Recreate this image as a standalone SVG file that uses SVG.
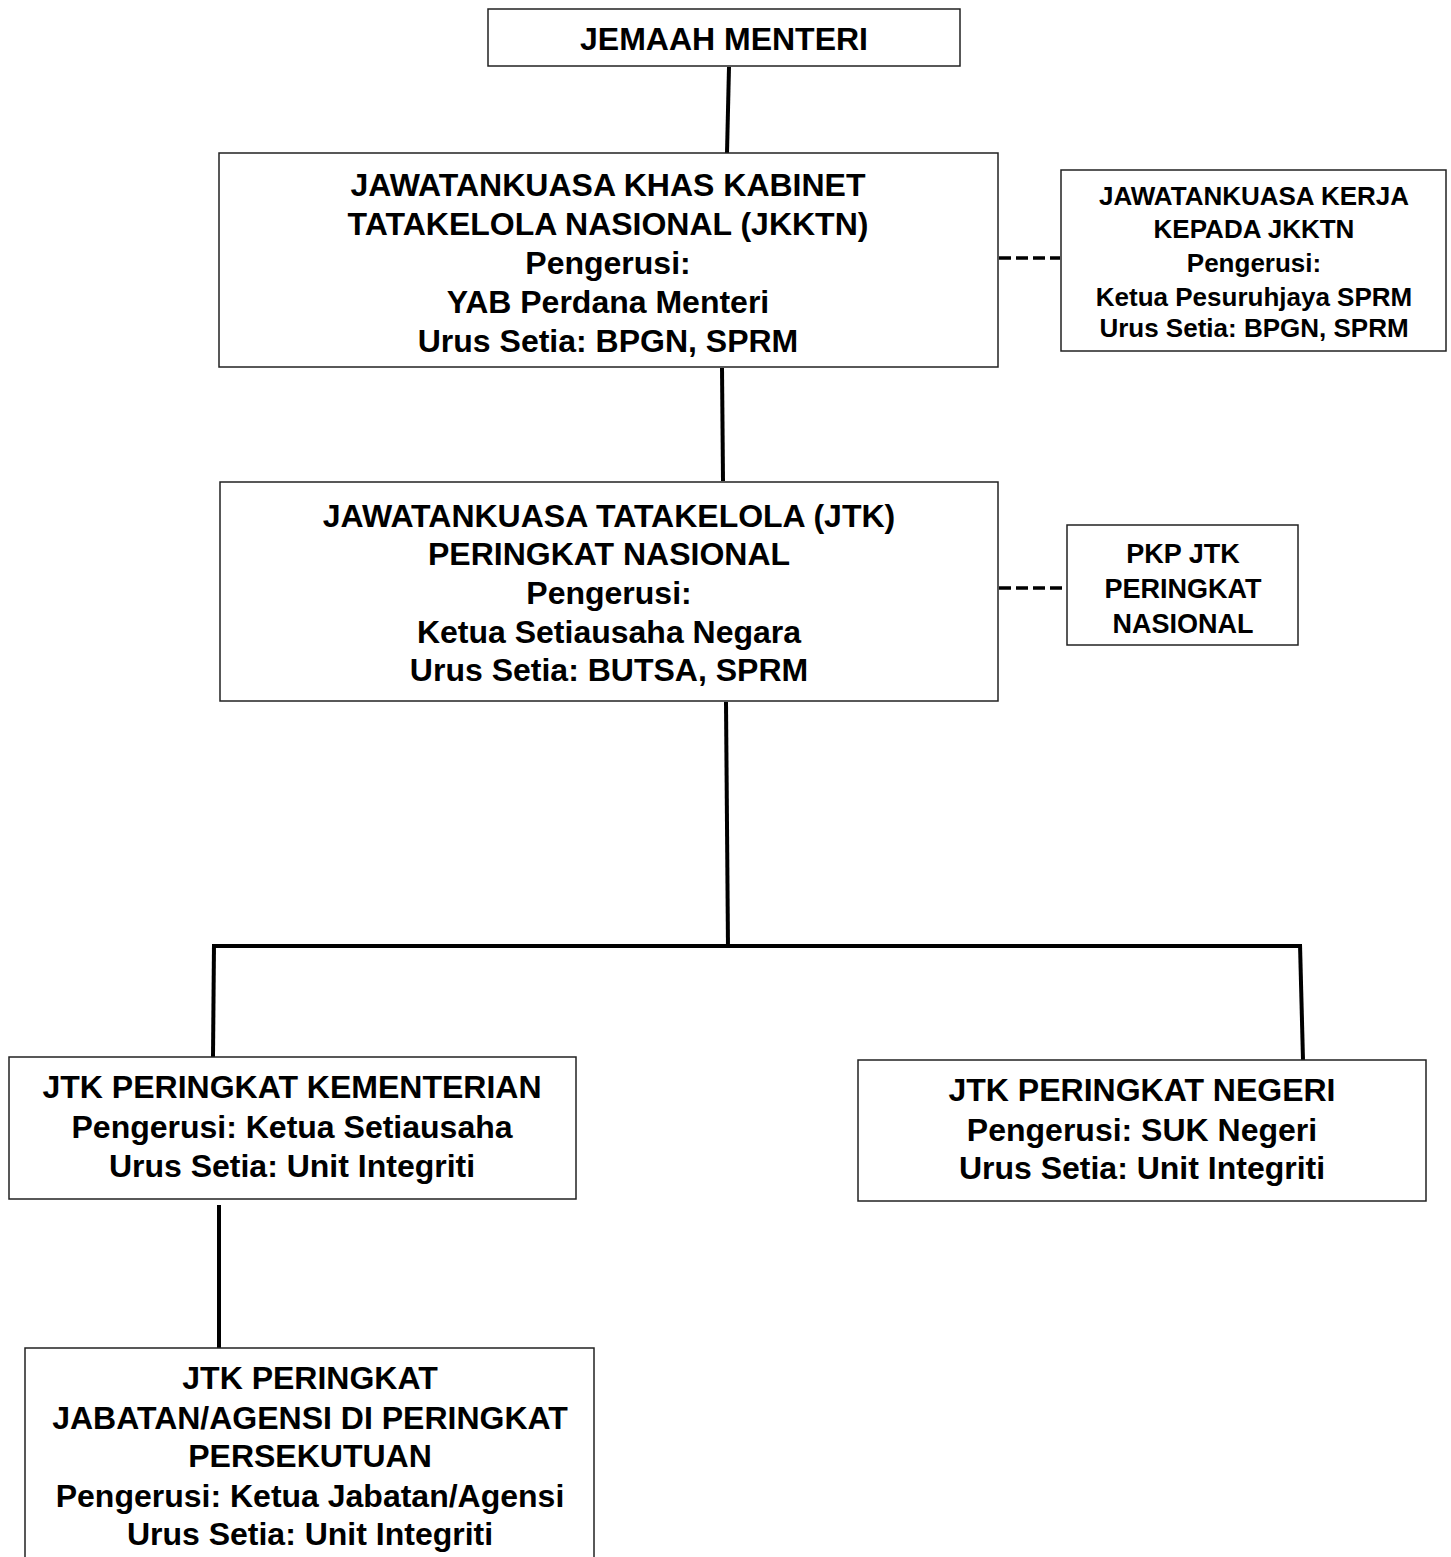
<svg xmlns="http://www.w3.org/2000/svg" width="1451" height="1557" viewBox="0 0 1451 1557">
<style>
.box{fill:#fff;stroke:#222;stroke-width:1.5}
.t{font-family:"Liberation Sans",Arial,sans-serif;font-weight:bold;fill:#000;text-anchor:middle}
.l{font-size:32px}
.m{font-size:27px}
.s{font-size:26px}
.c{stroke:#000;stroke-width:4;fill:none}
.d{stroke:#000;stroke-width:3.5;fill:none;stroke-dasharray:12 5}
</style>
<rect width="1451" height="1557" fill="#fff"/>
<g id="connectors">
<line class="c" x1="729" y1="67" x2="727" y2="153"/>
<line class="c" x1="722" y1="368" x2="723" y2="481"/>
<line class="c" x1="726" y1="702" x2="728" y2="947"/>
<line class="c" x1="212" y1="946" x2="1302" y2="946"/>
<line class="c" x1="214" y1="944" x2="213" y2="1057"/>
<line class="c" x1="1300" y1="944" x2="1303" y2="1060"/>
<line class="c" x1="219" y1="1205" x2="219" y2="1348"/>
<line class="d" x1="999" y1="258" x2="1060" y2="258"/>
<line class="d" x1="999" y1="588" x2="1066" y2="588"/>
</g>
<g id="jemaah">
<rect class="box" x="488" y="9" width="472" height="57"/>
<text class="t l" x="724" y="50">JEMAAH MENTERI</text>
</g>
<g id="jkktn">
<rect class="box" x="219" y="153" width="779" height="214"/>
<text class="t l"><tspan x="608" y="196">JAWATANKUASA KHAS KABINET</tspan><tspan x="608" y="235">TATAKELOLA NASIONAL (JKKTN)</tspan><tspan x="608" y="274">Pengerusi:</tspan><tspan x="608" y="313">YAB Perdana Menteri</tspan><tspan x="608" y="352">Urus Setia: BPGN, SPRM</tspan></text>
</g>
<g id="jk-kerja">
<rect class="box" x="1061" y="170" width="385" height="181"/>
<text class="t s"><tspan x="1254" y="205">JAWATANKUASA KERJA</tspan><tspan x="1254" y="238">KEPADA JKKTN</tspan><tspan x="1254" y="272">Pengerusi:</tspan><tspan x="1254" y="306">Ketua Pesuruhjaya SPRM</tspan><tspan x="1254" y="337">Urus Setia: BPGN, SPRM</tspan></text>
</g>
<g id="jtk-nasional">
<rect class="box" x="220" y="482" width="778" height="219"/>
<text class="t l"><tspan x="609" y="527">JAWATANKUASA TATAKELOLA (JTK)</tspan><tspan x="609" y="565">PERINGKAT NASIONAL</tspan><tspan x="609" y="604">Pengerusi:</tspan><tspan x="609" y="643">Ketua Setiausaha Negara</tspan><tspan x="609" y="681">Urus Setia: BUTSA, SPRM</tspan></text>
</g>
<g id="pkp-jtk">
<rect class="box" x="1067" y="525" width="231" height="120"/>
<text class="t m"><tspan x="1183" y="563">PKP JTK</tspan><tspan x="1183" y="598">PERINGKAT</tspan><tspan x="1183" y="633">NASIONAL</tspan></text>
</g>
<g id="jtk-kementerian">
<rect class="box" x="9" y="1057" width="567" height="142"/>
<text class="t l"><tspan x="292" y="1098">JTK PERINGKAT KEMENTERIAN</tspan><tspan x="292" y="1138">Pengerusi: Ketua Setiausaha</tspan><tspan x="292" y="1177">Urus Setia: Unit Integriti</tspan></text>
</g>
<g id="jtk-negeri">
<rect class="box" x="858" y="1060" width="568" height="141"/>
<text class="t l"><tspan x="1142" y="1101">JTK PERINGKAT NEGERI</tspan><tspan x="1142" y="1141">Pengerusi: SUK Negeri</tspan><tspan x="1142" y="1179">Urus Setia: Unit Integriti</tspan></text>
</g>
<g id="jtk-jabatan">
<rect class="box" x="25" y="1348" width="569" height="230"/>
<text class="t l"><tspan x="310" y="1389">JTK PERINGKAT</tspan><tspan x="310" y="1429">JABATAN/AGENSI DI PERINGKAT</tspan><tspan x="310" y="1467">PERSEKUTUAN</tspan><tspan x="310" y="1507">Pengerusi: Ketua Jabatan/Agensi</tspan><tspan x="310" y="1545">Urus Setia: Unit Integriti</tspan></text>
</g>
</svg>
